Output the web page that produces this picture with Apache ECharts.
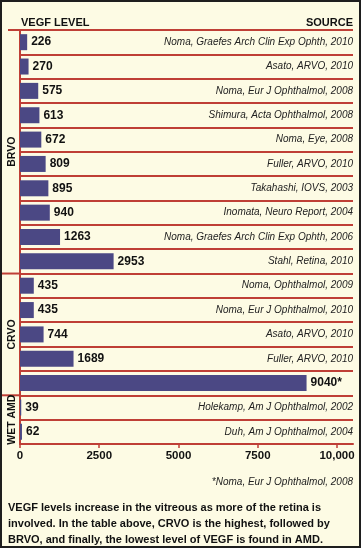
<!DOCTYPE html>
<html>
<head>
<meta charset="utf-8">
<script src="https://cdn.jsdelivr.net/npm/echarts@6/dist/echarts.min.js"></script>
<style>
html,body{margin:0;padding:0;background:#fdfbe4;}
#wrap{position:relative;width:361px;height:548px;}
#chart{position:absolute;left:0;top:0;width:361px;height:548px;}
#frame{position:absolute;left:0;top:0;width:361px;height:548px;box-sizing:border-box;border:2px solid #1e1e1e;pointer-events:none;}
</style>
</head>
<body>
<div id="wrap"><div id="chart"></div><div id="frame"></div></div>
<script>
// ---- data ----
var groupNames = ['BRVO', 'CRVO', 'WET AMD'];
var brvoValues = [226, 270, 575, 613, 672, 809, 895, 940, 1263, 2953];
var brvoSources = [
  'Noma, Graefes Arch Clin Exp Ophth, 2010',
  'Asato, ARVO, 2010',
  'Noma, Eur J Ophthalmol, 2008',
  'Shimura, Acta Ophthalmol, 2008',
  'Noma, Eye, 2008',
  'Fuller, ARVO, 2010',
  'Takahashi, IOVS, 2003',
  'Inomata, Neuro Report, 2004',
  'Noma, Graefes Arch Clin Exp Ophth, 2006',
  'Stahl, Retina, 2010'
];
var crvoValues = [435, 435, 744, 1689, 9040];
var crvoSources = [
  'Noma, Ophthalmol, 2009',
  'Noma, Eur J Ophthalmol, 2010',
  'Asato, ARVO, 2010',
  'Fuller, ARVO, 2010',
  ''
];
var amdValues = [39, 62];
var amdSources = [
  'Holekamp, Am J Ophthalmol, 2002',
  'Duh, Am J Ophthalmol, 2004'
];
var starredValue = 9040;
var tickValues = [0, 2500, 5000, 7500, 10000];
var footnote = '*Noma, Eur J Ophthalmol, 2008';
var caption = 'VEGF levels increase in the vitreous as more of the retina is\ninvolved. In the table above, CRVO is the highest, followed by\nBRVO, and finally, the lowest level of VEGF is found in AMD.';

// ---- build ----
var values = brvoValues.concat(crvoValues, amdValues);
var sources = brvoSources.concat(crvoSources, amdSources);
var groupSizes = [brvoValues.length, crvoValues.length, amdValues.length];
var cats = values.map(function (v, i) { return 'r' + i; });

var RED = '#bf3f36';
var BAR = '#4b4884';
var AXIS_MAX = 10505; // extends rule lines past the 10,000 tick like the original

var sans = "'Liberation Sans', Arial, sans-serif";

var chart = echarts.init(document.getElementById('chart'), null, {renderer: 'canvas'});
chart.setOption({
  backgroundColor: '#fdfbe4',
  animation: false,
  title: [
    {text: 'VEGF LEVEL', left: 21, top: 16, padding: 0,
     textStyle: {fontFamily: sans, fontWeight: 'bold', fontSize: 11, color: '#111', lineHeight: 13}},
    {text: 'SOURCE', right: 8, top: 16, padding: 0,
     textStyle: {fontFamily: sans, fontWeight: 'bold', fontSize: 11, color: '#111', lineHeight: 13}},
    {text: footnote, right: 8, top: 476, padding: 0,
     textStyle: {fontFamily: sans, fontStyle: 'italic', fontWeight: 'normal', fontSize: 10, color: '#222', lineHeight: 12}},
    {text: caption, left: 8, top: 500, padding: 0,
     textStyle: {fontFamily: sans, fontWeight: 'bold', fontSize: 11, color: '#111', lineHeight: 16}}
  ],
  grid: {left: 20, right: 8, top: 30, bottom: 104, containLabel: false},
  xAxis: {
    type: 'value', min: 0, max: AXIS_MAX,
    axisLine: {show: true, lineStyle: {color: RED, width: 2}},
    axisTick: {show: true, length: 4, customValues: tickValues, lineStyle: {color: RED, width: 1.5}},
    axisLabel: {customValues: tickValues, margin: 6, fontFamily: sans, fontWeight: 'bold', fontSize: 11.5, color: '#111',
      formatter: function (v) { return v >= 10000 ? '10,000' : String(v); }},
    splitLine: {show: false}
  },
  yAxis: [
    {
      type: 'category', data: cats, inverse: true,
      axisLine: {show: true, lineStyle: {color: RED, width: 2}},
      axisTick: {show: false},
      axisLabel: {show: false},
      splitLine: {show: true, interval: 0, lineStyle: {color: RED, width: 2}}
    },
    {
      type: 'category', data: cats, inverse: true, position: 'right',
      axisLine: {show: false}, axisTick: {show: false}, splitLine: {show: false},
      axisLabel: {show: true, inside: true, interval: 0, margin: 0, fontFamily: sans, fontStyle: 'italic',
        fontSize: 10, color: '#222',
        formatter: function (v, i) { return sources[i]; }}
    }
  ],
  series: [{
    type: 'bar', data: values, barWidth: 16, yAxisIndex: 0,
    itemStyle: {color: BAR},
    label: {show: true, position: 'right', distance: 4, fontFamily: sans, fontWeight: 'bold', fontSize: 12, color: '#111',
      formatter: function (p) { return p.value === starredValue ? p.value + '*' : String(p.value); }}
  }]
});

// group labels and separators positioned from the category axis scale
var g = [];
var start = 0;
var half = (chart.convertToPixel({yAxisIndex: 0}, 1) - chart.convertToPixel({yAxisIndex: 0}, 0)) / 2;
var topY = chart.convertToPixel({yAxisIndex: 0}, 0) - half;
g.push({type: 'line', shape: {x1: 8, y1: topY, x2: 21, y2: topY}, style: {stroke: RED, lineWidth: 2}, z: 10});
for (var k = 0; k < groupSizes.length; k++) {
  var end = start + groupSizes[k] - 1;
  var y0 = chart.convertToPixel({yAxisIndex: 0}, start) - half;
  var y1 = chart.convertToPixel({yAxisIndex: 0}, end) + half;
  g.push({type: 'text', x: 12, y: (y0 + y1) / 2, rotation: Math.PI / 2, z: 10,
    style: {text: groupNames[k], align: 'center', verticalAlign: 'middle',
      font: "bold 10.5px 'Liberation Sans', Arial, sans-serif", fill: '#111'}});
  if (k < groupSizes.length - 1) {
    g.push({type: 'line', shape: {x1: 2, y1: y1, x2: 21, y2: y1}, style: {stroke: RED, lineWidth: 2}, z: 10});
  }
  start = end + 1;
}
chart.setOption({graphic: g});
</script>
</body>
</html>
